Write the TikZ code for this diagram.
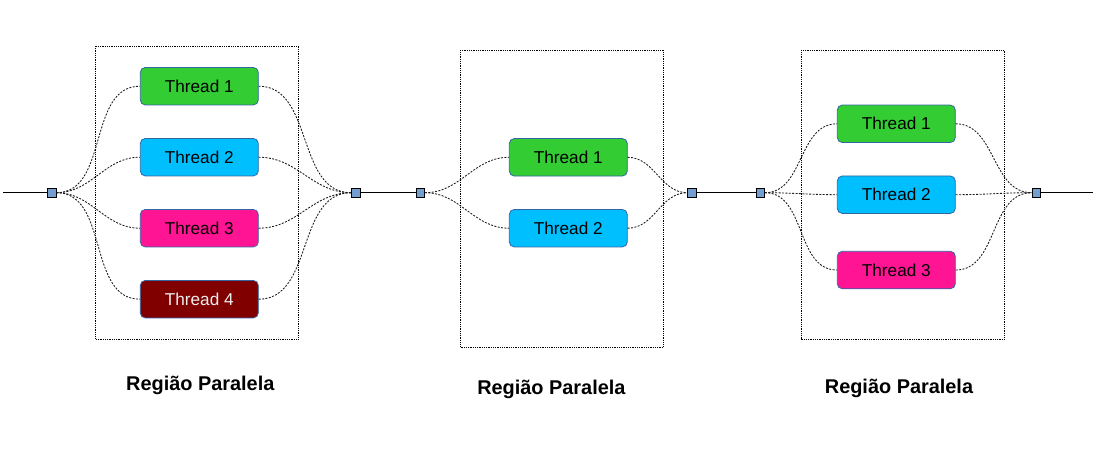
\documentclass[tikz,border=0pt]{standalone}
\usepackage{fontspec}
\setmainfont{Liberation Sans}
\usepackage{tikz}
\usepackage{xcolor}
\definecolor{threadgreen}{RGB}{51,204,51}
\definecolor{threadblue}{RGB}{0,191,255}
\definecolor{threadpink}{RGB}{255,20,147}
\definecolor{threadred}{RGB}{128,0,0}
\definecolor{threadborder}{RGB}{52,101,164}
\definecolor{junctionfill}{RGB}{114,159,207}

\begin{document}
\begin{tikzpicture}[x=1pt,y=-1pt,
  thread/.style={draw=threadborder,line width=0.8pt,rounded corners=5pt,minimum width=118pt,minimum height=37.5pt,inner sep=0pt,font=\fontsize{17.2}{18}\selectfont},
  junction/.style={draw=black,fill=junctionfill,line width=0.8pt,minimum size=8.5pt,inner sep=0pt},
  region/.style={draw=black,line width=0.8pt,densely dotted},
  fork/.style={draw=black!90,line width=0.85pt,dash pattern=on 2pt off 1.4pt},
  seq/.style={draw=black,line width=0.9pt},
  regiontitle/.style={anchor=base,font=\bfseries\fontsize{19.9}{22}\selectfont}]
\useasboundingbox (0,0) rectangle (1098,460);

\draw [region] (95.7,46) rectangle (298.3,339);
\node [junction] (in1) at (51.7,192.7) {};
\node [junction] (out1) at (355.7,192.7) {};
\node [thread,fill=threadgreen] (r1t1) at (199.3,86.2) {Thread 1};
\node [thread,fill=threadblue] (r1t2) at (199.3,157.2) {Thread 2};
\node [thread,fill=threadpink] (r1t3) at (199.3,228.2) {Thread 3};
\node [thread,fill=threadred,text=white!93!black] (r1t4) at (199.3,299.2) {Thread 4};
\foreach \t in {r1t1,r1t2,r1t3,r1t4} {
  \draw [fork] (in1.east) to[out=0,in=180] (\t.west);
  \draw [fork] (\t.east) to[out=0,in=180] (out1.west);
}
\node [regiontitle] (title1) at (200.3,390.7) {Região Paralela};

\draw [region] (460.3,50.3) rectangle (663.3,347);
\node [junction] (in2) at (420.3,192.7) {};
\node [junction] (out2) at (692,192.7) {};
\node [thread,fill=threadgreen] (r2t1) at (568.3,157.3) {Thread 1};
\node [thread,fill=threadblue] (r2t2) at (568.3,228.2) {Thread 2};
\foreach \t in {r2t1,r2t2} {
  \draw [fork] (in2.east) to[out=0,in=180] (\t.west);
  \draw [fork] (\t.east) to[out=0,in=180] (out2.west);
}
\node [regiontitle] (title2) at (551.4,394.5) {Região Paralela};

\draw [region] (801.3,50.3) rectangle (1004.3,339);
\node [junction] (in3) at (760.3,192.7) {};
\node [junction] (out3) at (1036.3,192.7) {};
\node [thread,fill=threadgreen] (r3t1) at (896.3,123.8) {Thread 1};
\node [thread,fill=threadblue] (r3t2) at (896.3,194.7) {Thread 2};
\node [thread,fill=threadpink] (r3t3) at (896.3,270) {Thread 3};
\foreach \t in {r3t1,r3t2,r3t3} {
  \draw [fork] (in3.east) to[out=0,in=180] (\t.west);
  \draw [fork] (\t.east) to[out=0,in=180] (out3.west);
}
\node [regiontitle] (title3) at (899,393.5) {Região Paralela};

\coordinate (start) at (3.3,192.7);
\coordinate (end) at (1092.7,192.7);
\draw [seq] (start) -- (in1.west);
\draw [seq] (out1.east) -- (in2.west);
\draw [seq] (out2.east) -- (in3.west);
\draw [seq] (out3.east) -- (end);
\end{tikzpicture}
\end{document}
